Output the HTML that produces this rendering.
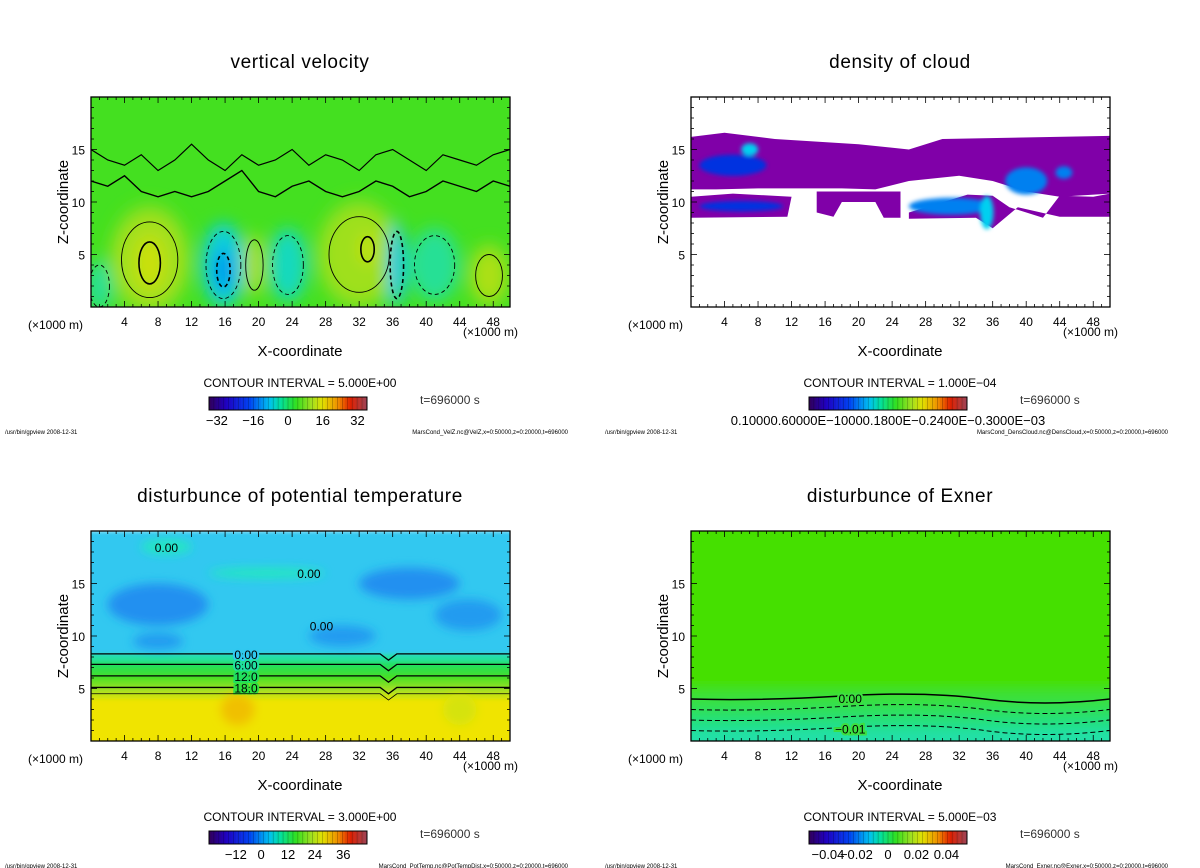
<!DOCTYPE html>
<html><head><meta charset="utf-8">
<style>
html,body{margin:0;padding:0;background:#fff;}
svg{display:block;font-family:"Liberation Sans",sans-serif;}
</style></head>
<body>
<svg id="fig" width="1200" height="868" viewBox="0 0 1200 868" xmlns="http://www.w3.org/2000/svg">
<defs>
<filter id="blur" x="-20%" y="-20%" width="140%" height="140%"><feGaussianBlur stdDeviation="5"/></filter>
<filter id="blur3" x="-30%" y="-30%" width="160%" height="160%"><feGaussianBlur stdDeviation="8"/></filter>
<filter id="blur2" x="-20%" y="-20%" width="140%" height="140%"><feGaussianBlur stdDeviation="2"/></filter>
</defs>
</svg>
<script>
// ---- data ----
const xTicks=[4,8,12,16,20,24,28,32,36,40,44,48];
const zTicks=[5,10,15];
// vertical velocity blobs
const velX=[1,7,7,7,15.8,15.8,19.5,23.5,32,32,33,36.5,41,47.5,47.5];
const velZ=[2,4.5,4.5,4.2,4,3.5,4,4,5,5,5.5,4,4,3,3];
const velRX=[1.5,5,4.2,1.6,2.6,1,1.3,2.3,5.2,4.5,1,1,3,2.6,2];
const velRZ=[2.5,5.5,4.5,2.5,4,2,3,3.5,5.5,4.5,1.5,4,3.5,3.2,2.5];
const velVal=[-6,5,10,16,-12,-20,10,-9,5,9,15,-14,-6,5,11];
const velZeroLine=[12,11.5,12.5,11,10.5,11,10.5,11,12,13,11,10.5,11.5,12,11,10.5,11,12,11.5,10.5,11,12,11.5,11,12,11.5];
const velUpperLine=[15,14,13.5,14.5,13,14,15.5,14,13,14.5,13.5,14,15,13.5,14.5,14,13,14.5,15,14,13,14.5,14,13.5,14.5,15];
// potential temperature layers
const ptLayerBot=[0,4,4.6,5.2,5.8,6.4,7,7.6,8.3];
const ptLayerTop=[4,4.6,5.2,5.8,6.4,7,7.6,8.3,20];
const ptLayerVal=[24,21,18,15,12,9,6,3,-4];
const ptPatchX=[8,38,45,30,8,9,21,17.5,44];
const ptPatchZ=[13,15,12,10,9.5,18.5,16,3,3];
const ptPatchRX=[6,6,4,4,3,3,7,2,2];
const ptPatchRZ=[2,1.5,1.5,1,0.8,0.7,0.5,1.5,1.5];
const ptPatchVal=[-9,-9,-8,-8,-8,0,0,28,22];
const ptContourZ=[8.3,7.3,6.2,5.1,4.5];
const ptContourLbl=["0.00","6.00","12.0","18.0",""];
// Exner
const exLayerBot=[0,1,2,3,4,5];
const exLayerTop=[1,2,3,4,5,20];
const exLayerVal=[-0.012,-0.009,-0.006,-0.003,-0.001,0.002];
const exContourZ=[4,3,2,1];
// cloud
const cloudPolys=[
 [[0,16.2],[4,16.6],[10,16],[20,15.5],[26,15],[30,16],[50,16.3],[50,10.8],[44,10.5],[40,11],[36,12],[32,12.5],[26,12],[22,11.2],[18,11.3],[14,11.3],[8,11.3],[3,11.2],[0,11.2]],
 [[0,10.5],[5,10.8],[12,10.5],[11.5,8.6],[0,8.5]],
 [[15,11],[20,11],[25,11],[25,8.5],[23,8.5],[22,10],[18,10],[17,8.6],[15,9]],
 [[26,9],[33,10.7],[36,10.6],[38,9.5],[42,8.5],[44,10.6],[48,10.5],[50,10.8],[50,8.6],[44,8.6],[39,9.5],[36,7.5],[34,8.5],[26,8.4]]
];
const cloudStreakX=[6,5,31,35.3,40,44.5,7];
const cloudStreakZ=[9.6,13.5,9.6,9,12,12.8,15];
const cloudStreakRX=[5,4,5,0.8,2.5,1,1];
const cloudStreakRZ=[0.5,1,0.8,1.6,1.3,0.6,0.6];
const cloudStreakVal=[3,3,4,5,4,4,5];

// ---- helpers ----
const NS="http://www.w3.org/2000/svg";
const svg=document.getElementById('fig');
function el(t,a,p){const e=document.createElementNS(NS,t);for(const k in a)e.setAttribute(k,a[k]);(p||svg).appendChild(e);return e;}
function hex(c){return [parseInt(c.slice(1,3),16),parseInt(c.slice(3,5),16),parseInt(c.slice(5,7),16)];}
function cmap(stops,v){
 if(v<=stops[0][0])return stops[0][1];
 for(let i=1;i<stops.length;i++){if(v<=stops[i][0]){const a=stops[i-1],b=stops[i];const t=(v-a[0])/(b[0]-a[0]);const A=hex(a[1]),B=hex(b[1]);return 'rgb('+A.map((x,j)=>Math.round(x+(B[j]-x)*t)).join(',')+')';}}
 return stops[stops.length-1][1];
}
const velStops=[[-22,'#0080f0'],[-14,'#00c8f0'],[-7,'#20e0a8'],[0,'#44e020'],[5,'#70e020'],[8,'#98e020'],[14,'#c0e010'],[20,'#e0e000']];
const ptStops=[[-12,'#0040f0'],[-9,'#2090f0'],[-4,'#30c8f0'],[0,'#20e8c0'],[3,'#20e0a0'],[6,'#20e060'],[12,'#40e020'],[18,'#a0e020'],[24,'#f0e400'],[28,'#f0c000']];
const exStops=[[-0.012,'#20e0a8'],[-0.009,'#24e088'],[-0.006,'#2ce068'],[-0.003,'#36e048'],[-0.001,'#3ee030'],[0.002,'#44e000']];
const cloudStops=[[0,'#8000a8'],[2,'#3010c0'],[3,'#0030e0'],[4,'#0080f0'],[5,'#00d0f0']];
const rainbow=[[0,'#300060'],[0.1,'#2000c0'],[0.25,'#0040f0'],[0.38,'#00c0f0'],[0.45,'#00e0a0'],[0.55,'#30e020'],[0.65,'#a0e020'],[0.72,'#e0e000'],[0.82,'#f09000'],[0.9,'#e02000'],[1,'#a04050']];

function panel(ox,oy,name,title,ciText,cbLabels,cbLabelPos,footer){
 const g=el('g',{});
 
 
 const x0=ox+91,x1=ox+510,y0=oy+97,y1=oy+307;
 const P={g,ox,oy,x0,x1,y0,y1,sx:x=>x0+x*(x1-x0)/50,sz:z=>y1-z*(y1-y0)/20};
 const cid='clip'+name;
 const cp=el('clipPath',{id:cid},svg.querySelector('defs'));
 el('rect',{x:x0,y:y0,width:x1-x0,height:y1-y0},cp);
 P.plot=el('g',{'clip-path':'url(#'+cid+')'},g);
 
 
 P.finish=function(){
  const fr=el('rect',{x:x0,y:y0,width:x1-x0,height:y1-y0,fill:'none',stroke:'#000','stroke-width':1.3},g);
  
  
  for(let x=1;x<50;x++){const L=(x%4==0)?6:3;el('line',{x1:P.sx(x),x2:P.sx(x),y1:y1,y2:y1-L,stroke:'#000','stroke-width':0.8},g);el('line',{x1:P.sx(x),x2:P.sx(x),y1:y0,y2:y0+L,stroke:'#000','stroke-width':0.8},g);}
  for(let z=1;z<20;z++){const L=(z%5==0)?6:3;el('line',{x1:x0,x2:x0+L,y1:P.sz(z),y2:P.sz(z),stroke:'#000','stroke-width':0.8},g);el('line',{x1:x1,x2:x1-L,y1:P.sz(z),y2:P.sz(z),stroke:'#000','stroke-width':0.8},g);}
  xTicks.forEach(v=>{const t=el('text',{x:P.sx(v),y:y1+19,'text-anchor':'middle','font-size':12},g);t.textContent=v;});
  zTicks.forEach(v=>{const t=el('text',{x:x0-6,y:P.sz(v)+5,'text-anchor':'end','font-size':12},g);t.textContent=v;});
  let t=el('text',{x:ox+28,y:y1+22,'font-size':12},g);t.textContent='(×1000 m)';
  
  t=el('text',{x:x1+8,y:y1+29,'text-anchor':'end','font-size':12},g);t.textContent='(×1000 m)';
  
  t=el('text',{x:ox+300,y:oy+356,'text-anchor':'middle','font-size':15},g);t.textContent='X-coordinate';
  
  t=el('text',{x:ox+68,y:oy+202,'text-anchor':'middle','font-size':15,transform:'rotate(-90 '+(ox+68)+' '+(oy+202)+')'},g);t.textContent='Z-coordinate';
  
  t=el('text',{x:ox+300,y:oy+68,'text-anchor':'middle','font-size':19,'letter-spacing':'0.6'},g);t.textContent=title;
  
  t=el('text',{x:ox+300,y:oy+387,'text-anchor':'middle','font-size':12},g);t.textContent=ciText;
  
  const cb=el('g',{},g);
  const n=64,cx0=ox+209,cx1=ox+367,cy=oy+397,ch=13;
  for(let i=0;i<n;i++){const c=cmap(rainbow,i/(n-1));el('rect',{x:cx0+i*(cx1-cx0)/n,y:cy,width:(cx1-cx0)/n+0.3,height:ch,fill:c},cb);if(i%2==0)el('line',{x1:cx0+i*(cx1-cx0)/n,x2:cx0+i*(cx1-cx0)/n,y1:cy,y2:cy+ch,stroke:'rgba(0,0,0,0.35)','stroke-width':0.6},cb);}
  el('rect',{x:cx0,y:cy,width:cx1-cx0,height:ch,fill:'none',stroke:'#000','stroke-width':1},cb);
  cbLabels.forEach((s,i)=>{const tt=el('text',{x:cx0+cbLabelPos[i]*(cx1-cx0),y:cy+28,'text-anchor':'middle','font-size':13},cb);tt.textContent=s;});
  t=el('text',{x:ox+420,y:oy+404,'font-size':12,fill:'#333'},g);t.textContent='t=696000 s';
  
  t=el('text',{x:ox+5,y:oy+434,'font-size':6},g);t.textContent='/usr/bin/gpview   2008-12-31';
  
  t=el('text',{x:ox+568,y:oy+434,'text-anchor':'end','font-size':6},g);t.textContent=footer;
  
 };
 return P;
}
function ellipses(P,X,Z,RX,RZ,V,stops,filter){
 const g=el('g',filter?{filter:'url(#'+filter+')'}:{},P.plot);
 X.forEach((x,i)=>{const e=el('ellipse',{cx:P.sx(x),cy:P.sz(Z[i]),rx:RX[i]*(P.x1-P.x0)/50,ry:RZ[i]*(P.y1-P.y0)/20,fill:cmap(stops,V[i])},g);
  });
 return g;
}
function linePath(P,arr,w,name){let d='';arr.forEach((z,i)=>{d+=(i?'L':'M')+P.sx(i*2)+' '+P.sz(z);});
 const p=el('path',{d,fill:'none',stroke:'#000','stroke-width':w},P.plot);
 }

// ---- Panel 1: vertical velocity ----
let P=panel(0,0,'vertical-velocity-panel','vertical velocity','CONTOUR INTERVAL = 5.000E+00',['−32','−16','0','16','32'],[0.05,0.28,0.5,0.72,0.94],'MarsCond_VelZ.nc@VelZ,x=0:50000,z=0:20000,t=696000');
el('rect',{x:P.x0,y:P.y0,width:P.x1-P.x0,height:P.y1-P.y0,fill:cmap(velStops,0)},P.plot);
ellipses(P,velX,velZ,velRX,velRZ,velVal,velStops,'blur3');
velX.forEach((x,i)=>{if(Math.abs(velVal[i])<6&&velVal[i]>0)return;const k=0.8;const e=el('ellipse',{cx:P.sx(x),cy:P.sz(velZ[i]),rx:velRX[i]*k*(P.x1-P.x0)/50,ry:velRZ[i]*k*(P.y1-P.y0)/20,fill:'none',stroke:'#000','stroke-width':Math.abs(velVal[i])>12?1.6:0.9,'stroke-dasharray':velVal[i]<0?'4 3':'none'},P.plot);
 });
linePath(P,velZeroLine,1.4,'zero-contour');
linePath(P,velUpperLine,1.2,'upper-zero-contour');
P.finish();

// ---- Panel 2: density of cloud ----
P=panel(600,0,'cloud-density-panel','density of cloud','CONTOUR INTERVAL = 1.000E−04',['0.10000.60000E−10000.1800E−0.2400E−0.3000E−03'],[0.5],'MarsCond_DensCloud.nc@DensCloud,x=0:50000,z=0:20000,t=696000');
el('rect',{x:P.x0,y:P.y0,width:P.x1-P.x0,height:P.y1-P.y0,fill:'#fff'},P.plot);
cloudPolys.forEach(poly=>{const p=el('polygon',{points:poly.map(q=>P.sx(q[0])+','+P.sz(q[1])).join(' '),fill:cmap(cloudStops,0)},P.plot);
 });
ellipses(P,cloudStreakX,cloudStreakZ,cloudStreakRX,cloudStreakRZ,cloudStreakVal,cloudStops,'blur2');
P.finish();

// ---- Panel 3: potential temperature ----
P=panel(0,434,'potential-temperature-panel','disturbunce of potential temperature','CONTOUR INTERVAL = 3.000E+00',['−12','0','12','24','36'],[0.17,0.33,0.5,0.67,0.85],'MarsCond_PotTemp.nc@PotTempDist,x=0:50000,z=0:20000,t=696000');
{const lg=el('g',{filter:'url(#blur2)'},P.plot);
 ptLayerBot.forEach((b,i)=>{const r=el('rect',{x:P.x0-10,y:P.sz(ptLayerTop[i]),width:P.x1-P.x0+20,height:P.sz(b)-P.sz(ptLayerTop[i])+(i==0?10:0),fill:cmap(ptStops,ptLayerVal[i])},lg);
  });}
ellipses(P,ptPatchX,ptPatchZ,ptPatchRX,ptPatchRZ,ptPatchVal,ptStops,'blur');
ptContourZ.forEach((z,i)=>{const y=P.sz(z),yd=P.sz(z-0.6);
 const d='M'+P.x0+' '+y+'L'+P.sx(34.5)+' '+y+'L'+P.sx(35.5)+' '+yd+'L'+P.sx(36.5)+' '+y+'L'+P.x1+' '+y;
 const p=el('path',{d,fill:'none',stroke:'#000','stroke-width':i==4?0.8:1.3},P.plot);
 
 if(ptContourLbl[i]){const t=el('text',{x:P.sx(18.5),y:y+5,'text-anchor':'middle','font-size':12,'paint-order':'stroke',stroke:cmap(ptStops,ptLayerVal[8-i]),'stroke-width':4},P.plot);t.textContent=ptContourLbl[i];
  }});
[[9,18.5,'0.00'],[26,16,'0.00'],[27.5,11,'0.00']].forEach(a=>{const t=el('text',{x:P.sx(a[0]),y:P.sz(a[1])+5,'text-anchor':'middle','font-size':12},P.plot);t.textContent=a[2];
 });
P.finish();

// ---- Panel 4: Exner ----
P=panel(600,434,'exner-panel','disturbunce of Exner','CONTOUR INTERVAL = 5.000E−03',['−0.04','−0.02','0','0.02','0.04'],[0.12,0.3,0.5,0.68,0.87],'MarsCond_Exner.nc@Exner,x=0:50000,z=0:20000,t=696000');
{const lg=el('g',{filter:'url(#blur)'},P.plot);
 exLayerBot.forEach((b,i)=>{const r=el('rect',{x:P.x0-20,y:P.sz(exLayerTop[i])-(i==5?20:0),width:P.x1-P.x0+40,height:P.sz(b)-P.sz(exLayerTop[i])+(i==0?20:0)+(i==5?20:0),fill:cmap(exStops,exLayerVal[i])},lg);
  });}
exContourZ.forEach((z,i)=>{const y=P.sz(z);
 const d='M'+P.x0+' '+y+'Q'+P.sx(8)+' '+(y+2)+' '+P.sx(18)+' '+(y-3)+'T'+P.sx(35)+' '+y+'T'+P.x1+' '+y;
 const p=el('path',{d,fill:'none',stroke:'#000','stroke-width':i==0?1.5:1,'stroke-dasharray':i==0?'none':'5 3'},P.plot);
 });
[[19,4.1,'0.00'],[19,1.2,'−0.01']].forEach(a=>{const t=el('text',{x:P.sx(a[0]),y:P.sz(a[1])+5,'text-anchor':'middle','font-size':12,'paint-order':'stroke',stroke:'#3ce040','stroke-width':4},P.plot);t.textContent=a[2];
 });
P.finish();
</script>
</body></html>
